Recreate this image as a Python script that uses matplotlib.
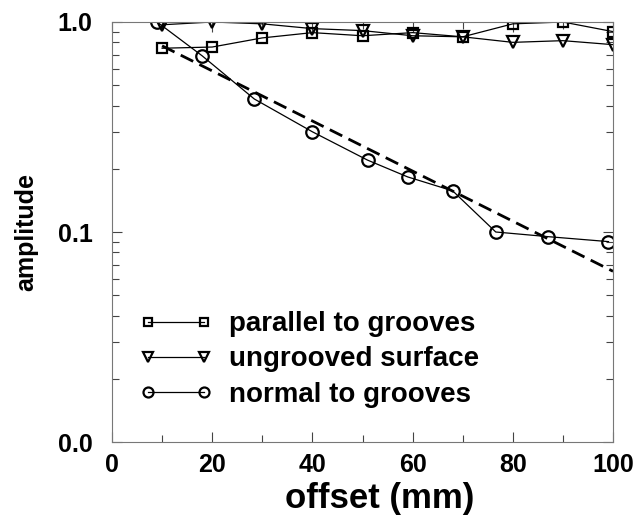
import matplotlib
matplotlib.use("Agg")
import matplotlib.pyplot as plt
from matplotlib.ticker import FixedLocator, FuncFormatter, MultipleLocator

plt.rcParams['font.family'] = ['Liberation Sans', 'DejaVu Sans']
plt.rcParams['font.weight'] = 'bold'

# parallel to grooves
x_par = [10, 20, 30, 40, 50, 60, 70, 80, 90, 100]
y_par = [0.75, 0.76, 0.84, 0.89, 0.86, 0.89, 0.85, 0.98, 1.0, 0.90]
# ungrooved surface
x_ung = [10, 20, 30, 40, 50, 60, 70, 80, 90, 100]
y_ung = [0.97, 1.0, 0.98, 0.93, 0.91, 0.86, 0.85, 0.80, 0.815, 0.78]
# normal to grooves
x_nor = [9, 18, 28.4, 40, 51, 59, 68, 76.6, 87.1, 99.1]
y_nor = [1.0, 0.69, 0.43, 0.30, 0.22, 0.183, 0.157, 0.10, 0.095, 0.090]
# exponential fit
x_fit = [10, 100]
y_fit = [0.77, 0.065]

fig = plt.figure(figsize=(6.36, 5.18), dpi=100)
ax = fig.add_axes([112/636, 1-442/518, 501/636, 420/518])

ax.plot(x_par, y_par, '-', color='k', lw=0.9, marker='s', ms=7, mfc='none', mec='k', mew=1.6,
        label='parallel to grooves')
ax.plot(x_ung, y_ung, '-', color='k', lw=0.9, marker='v', ms=9, mfc='none', mec='k', mew=1.6,
        label='ungrooved surface')
ax.plot(x_nor, y_nor, '-', color='k', lw=0.9, marker='o', ms=9, mfc='none', mec='k', mew=1.6,
        label='normal to grooves')
ax.plot(x_fit, y_fit, '--', color='k', lw=2, dashes=(5, 2.5))

ax.set_yscale('log')
ax.set_xlim(0, 100)
ax.set_ylim(0.01, 1.0)
ax.xaxis.set_major_locator(MultipleLocator(20))
ax.xaxis.set_minor_locator(MultipleLocator(10))
ax.yaxis.set_major_locator(FixedLocator([0.01, 0.1, 1.0]))
ax.yaxis.set_major_formatter(FuncFormatter(lambda v, p: '%.1f' % v))
ax.tick_params(which='both', direction='in', top=True, right=True, labelsize=18, color='#444')
ax.tick_params(which='major', length=7, width=0.8)
ax.tick_params(which='minor', length=5, width=0.8)
ax.tick_params(axis='x', which='major', pad=8)
ax.tick_params(axis='y', which='major', pad=14)
for s in ax.spines.values():
    s.set_color('#777')
    s.set_linewidth(0.8)

ax.set_xlabel('offset (mm)', fontsize=25, fontweight='bold')
ax.xaxis.set_label_coords(0.535, -0.174, transform=ax.transAxes)
ax.xaxis.label.set_va('bottom')
ax.set_ylabel('amplitude', fontsize=18, fontweight='bold', labelpad=14)

leg = ax.legend(loc='lower left', bbox_to_anchor=(0.034, 0.0555), numpoints=2, markerscale=0.8,
                frameon=False, fontsize=20, handlelength=2.6, handletextpad=0.6,
                labelspacing=0.33, borderaxespad=0)
for t in leg.get_texts():
    t.set_fontweight('bold')

fig.savefig('out.png', dpi=100)
